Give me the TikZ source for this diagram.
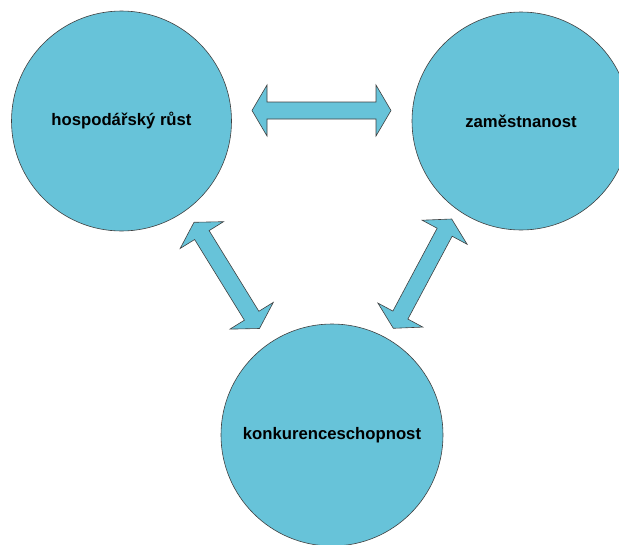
\documentclass[tikz,border=0pt]{standalone}
\usepackage{fontspec}
\setmainfont{Liberation Sans}
\usepackage{xcolor}
\usepackage{tikz}
\usetikzlibrary{calc}
\definecolor{modra}{RGB}{103,195,217}
\definecolor{obrys}{RGB}{64,64,64}
\def\hlen{15pt}
\def\hwid{25.5pt}
\def\swid{8.5pt}
\def\dvojsipka#1#2{%
	\draw[sipka] (#1)--($(#1)!\hlen!(#2)!\hwid!90:(#2)$)--($(#1)!\hlen!(#2)!\swid!90:(#2)$)
		--($(#2)!\hlen!(#1)!\swid!-90:(#1)$)--($(#2)!\hlen!(#1)!\hwid!-90:(#1)$)--(#2)
		--($(#2)!\hlen!(#1)!\hwid!90:(#1)$)--($(#2)!\hlen!(#1)!\swid!90:(#1)$)
		--($(#1)!\hlen!(#2)!\swid!-90:(#2)$)--($(#1)!\hlen!(#2)!\hwid!-90:(#2)$)--cycle;}
\tikzset{
	kruh/.style={circle,draw=obrys,line width=0.6pt,fill=modra,inner sep=0pt,
		font=\fontsize{16.7}{20}\selectfont\bfseries},
	sipka/.style={draw=obrys,line width=0.6pt,fill=modra,line join=miter}
}
\begin{document}
\begin{tikzpicture}[x=1pt,y=-1pt]
					\useasboundingbox (0,0) rectangle (619,544);
					\node[kruh,minimum size=220pt] (rust) at (121.5,121) {hospodářský růst};
					\node[kruh,minimum size=218pt] (zam) at (521,121) {zaměstnanost};
					\node[kruh,minimum size=222pt] (konk) at (332,435) {konkurenceschopnost};
					\coordinate (rz1) at (252,110.5);
					\coordinate (rz2) at (391,110.5);
					\coordinate (rk1) at (194,222.3);
					\coordinate (rk2) at (259.5,328.5);
					\coordinate (zk1) at (451.7,219);
					\coordinate (zk2) at (393.3,328.3);
					\dvojsipka{rz1}{rz2}
					\dvojsipka{rk1}{rk2}
					\dvojsipka{zk1}{zk2}
				\end{tikzpicture}
\end{document}
